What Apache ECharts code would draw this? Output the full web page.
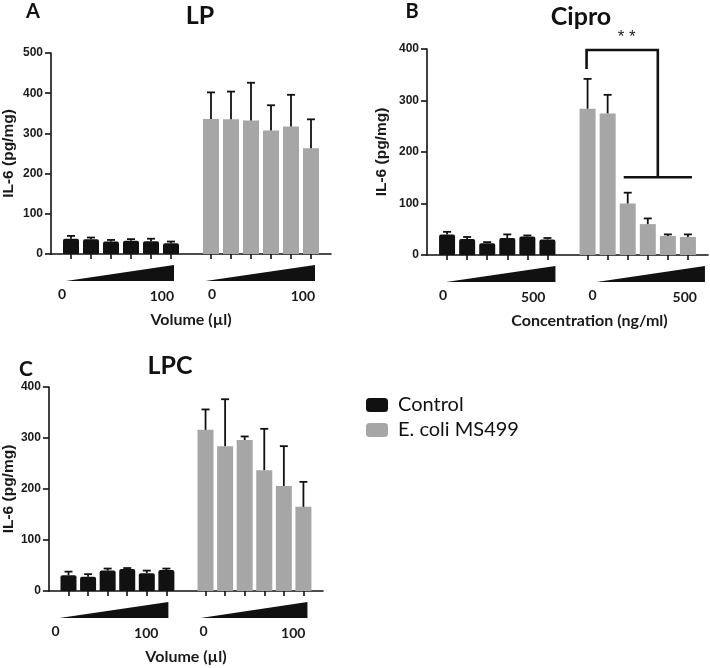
<!DOCTYPE html>
<html><head><meta charset="utf-8">
<script src="https://cdn.jsdelivr.net/npm/echarts@6/dist/echarts.min.js"></script>
<style>html,body{margin:0;padding:0;background:#fff}#c{width:710px;height:668px}</style>
</head><body><div id="c"></div>
<script>
// ---------- data ----------
const doses = ['dose 1','dose 2','dose 3','dose 4','dose 5','dose 6'];
const groupNames = ['Control', 'E. coli MS499'];

const lpControl     = [38, 37, 31, 33, 32, 27];
const lpControlErr  = [7, 4, 4, 4, 6, 4];
const lpEcoli       = [336, 335, 332, 307, 317, 263];
const lpEcoliErr    = [66, 69, 94, 63, 79, 72];
const lpDoseLabels  = ['0', '100'];

const cipControl    = [40, 31, 23, 33, 36, 30];
const cipControlErr = [5, 4, 2, 7, 2, 3];
const cipEcoli      = [284, 275, 100, 60, 37, 35];
const cipEcoliErr   = [58, 36, 21, 11, 3, 5];
const cipDoseLabels = ['0', '500'];

const lpcControl    = [31, 28, 40, 43, 35, 41];
const lpcControlErr = [7, 5, 4, 2, 5, 3];
const lpcEcoli      = [316, 284, 296, 237, 206, 165];
const lpcEcoliErr   = [40, 92, 7, 81, 78, 49];
const lpcDoseLabels = ['0', '100'];

const yTicksLP = [0, 100, 200, 300, 400, 500];
const yTicks400 = [0, 100, 200, 300, 400];

// significance annotation (Cipro): values in data units
const cipSig = { text: '* *', topValue: 398, legBottomValue: 361, lowValue: 151 };

// ---------- build ----------
const cats = ['pad L'].concat(doses.map(d => 'Control ' + d), ['gap'], doses.map(d => 'MS499 ' + d), ['pad R']);
const ctrlIdx = doses.map((_, i) => 1 + i);
const ecoIdx = doses.map((_, i) => 8 + i);
const tickSet = new Set(ctrlIdx.concat(ecoIdx));

const panels = [
  { title: 'LP', letter: 'A', ticks: yTicksLP, xName: 'Volume (µl)',
    ctrl: lpControl, ctrlErr: lpControlErr, eco: lpEcoli, ecoErr: lpEcoliErr, labels: lpDoseLabels,
    grid: { left: 50, top: 53, width: 281, height: 201 }, yGap: 34, xNamePad: 0,
    titleXY: [200, 16], letterXY: [33, 12], letterSize: 20,
    adj: [[-5, 3, -9, 3], [-5.5, 4, 1, 4]] },
  { title: 'Cipro', letter: 'B', ticks: yTicks400, xName: 'Concentration (ng/ml)',
    ctrl: cipControl, ctrlErr: cipControlErr, eco: cipEcoli, ecoErr: cipEcoliErr, labels: cipDoseLabels,
    grid: { left: 427, top: 49, width: 281, height: 206 }, yGap: 37, xNamePad: 44,
    titleXY: [581, 17], letterXY: [412, 12], letterSize: 20,
    adj: [[-1, 8, -4, -2], [9, 17, 5, 9]] },
  { title: 'LPC', letter: 'C', ticks: yTicks400, xName: 'Volume (µl)',
    ctrl: lpcControl, ctrlErr: lpcControlErr, eco: lpcEcoli, ecoErr: lpcEcoliErr, labels: lpcDoseLabels,
    grid: { left: 45, top: 387, width: 278, height: 204 }, yGap: 29, xNamePad: 0,
    titleXY: [170, 366], letterXY: [26, 369], letterSize: 21,
    adj: [[-9, 2, -13, -8], [-5, 4, -2, 2]] }
];

const INK = '#111111';
const GREY = '#a6a6a6';
const grids = [], xAxes = [], yAxes = [], series = [], graphics = [];

panels.forEach((p, k) => {
  grids.push(Object.assign({ containLabel: false }, p.grid));
  xAxes.push({
    type: 'category', gridIndex: k, data: cats, boundaryGap: false,
    axisLine: { show: true, onZero: false, lineStyle: { color: INK, width: 1.6 } },
    axisTick: { show: true, length: 5, inside: false, interval: (i) => tickSet.has(i), lineStyle: { color: INK, width: 1.6 } },
    axisLabel: { show: false }, splitLine: { show: false },
    name: p.xName, nameLocation: 'middle', nameGap: 58,
    nameTextStyle: { fontFamily: 'Lato', fontWeight: 'bold', fontSize: 16, color: '#1a1a1a', padding: [0, 0, 0, p.xNamePad] }
  });
  const tmax = p.ticks[p.ticks.length - 1];
  yAxes.push({
    type: 'value', gridIndex: k, min: p.ticks[0], max: tmax, interval: p.ticks[1] - p.ticks[0],
    axisLine: { show: true, lineStyle: { color: INK, width: 1.6 } },
    axisTick: { show: true, length: 6, lineStyle: { color: INK, width: 1.6 } },
    axisLabel: { margin: 8, fontFamily: 'Liberation Sans', fontWeight: 'bold', fontSize: 12, color: '#1a1a1a' },
    splitLine: { show: false },
    name: 'IL-6 (pg/mg)', nameLocation: 'middle', nameRotate: 90, nameGap: p.yGap,
    nameTextStyle: { fontFamily: 'Liberation Sans', fontWeight: 'bold', fontSize: 15.5, color: '#1a1a1a' }
  });

  const ctrlData = cats.map(() => null), ecoData = cats.map(() => null);
  ctrlIdx.forEach((ci, i) => ctrlData[ci] = p.ctrl[i]);
  ecoIdx.forEach((ci, i) => ecoData[ci] = p.eco[i]);

  series.push({ type: 'bar', name: groupNames[0], xAxisIndex: k, yAxisIndex: k, data: ctrlData,
    barWidth: 16, barGap: '-100%', itemStyle: { color: INK, borderRadius: [2, 2, 1, 1] }, z: 2 });
  series.push({ type: 'bar', name: groupNames[1], xAxisIndex: k, yAxisIndex: k, data: ecoData,
    barWidth: 16, barGap: '-100%', itemStyle: { color: GREY }, z: 2 });

  const errData = [];
  ctrlIdx.forEach((ci, i) => errData.push([ci, p.ctrl[i], p.ctrl[i] + p.ctrlErr[i]]));
  ecoIdx.forEach((ci, i) => errData.push([ci, p.eco[i], p.eco[i] + p.ecoErr[i]]));
  series.push({ type: 'custom', xAxisIndex: k, yAxisIndex: k, data: errData, z: 5, silent: true,
    encode: { x: 0, y: [1, 2] },
    renderItem: (params, api) => {
      const a = api.coord([api.value(0), api.value(1)]);
      const b = api.coord([api.value(0), api.value(2)]);
      const st = { stroke: INK, lineWidth: 1.8 };
      return { type: 'group', children: [
        { type: 'line', shape: { x1: a[0], y1: a[1], x2: b[0], y2: b[1] }, style: st },
        { type: 'line', shape: { x1: b[0] - 4, y1: b[1], x2: b[0] + 4, y2: b[1] }, style: st }
      ] };
    } });

  // dose wedges + dose labels below the axis
  const wedgeData = [[ctrlIdx[0], ctrlIdx[5]], [ecoIdx[0], ecoIdx[5]]];
  series.push({ type: 'custom', xAxisIndex: k, yAxisIndex: k, data: wedgeData, z: 3, silent: true, clip: false,
    encode: { x: [0, 1] },
    renderItem: (params, api) => {
      const ad = p.adj[params.dataIndex];
      const a = api.coord([api.value(0), 0]);
      const b = api.coord([api.value(1), 0]);
      const y0 = a[1];
      const xl = a[0] + ad[0], xr = b[0] + ad[1];
      return { type: 'group', children: [
        { type: 'polygon', shape: { points: [[xl, y0 + 27], [xr, y0 + 27], [xr, y0 + 11]] }, style: { fill: INK } },
        { type: 'text', style: { text: p.labels[0], x: a[0] + ad[2], y: y0 + 40, align: 'center', verticalAlign: 'middle',
            font: 'bold 14px Lato', fill: '#1a1a1a' } },
        { type: 'text', style: { text: p.labels[1], x: b[0] + ad[3], y: y0 + 42, align: 'right', verticalAlign: 'middle',
            font: 'bold 14px Lato', fill: '#1a1a1a' } }
      ] };
    } });

  graphics.push({ type: 'text', x: p.titleXY[0], y: p.titleXY[1],
    style: { text: p.title, font: 'bold 25px Lato', fill: '#111', align: 'center', verticalAlign: 'middle' } });
  graphics.push({ type: 'text', x: p.letterXY[0], y: p.letterXY[1],
    style: { text: p.letter, font: 'bold ' + p.letterSize + 'px Lato', fill: '#111', align: 'center', verticalAlign: 'middle' } });
});

// significance bracket on Cipro panel (gridIndex 1)
series.push({ type: 'custom', xAxisIndex: 1, yAxisIndex: 1, data: [[ecoIdx[0], cipSig.topValue]], z: 6, silent: true, clip: false,
  encode: { x: 0, y: 1 },
  renderItem: (params, api) => {
    const bw = api.size([1, 0])[0];
    const xAt = (f) => api.coord([Math.floor(f), 0])[0] + (f - Math.floor(f)) * bw;
    const yAt = (v) => api.coord([ecoIdx[0], v])[1];
    const xL = xAt(ecoIdx[0]) - 1, xR = xAt(ecoIdx[3] + 0.5);
    const yT = yAt(cipSig.topValue), yLeg = yAt(cipSig.legBottomValue), yLow = yAt(cipSig.lowValue);
    const st = { stroke: INK, lineWidth: 2.6, lineCap: 'butt' };
    return { type: 'group', children: [
      { type: 'polyline', shape: { points: [[xL, yLeg], [xL, yT], [xR, yT], [xR, yLow]] }, style: Object.assign({ fill: null }, st) },
      { type: 'line', shape: { x1: xAt(ecoIdx[2] - 0.2), y1: yLow, x2: xAt(ecoIdx[5] + 0.2), y2: yLow }, style: st },
      { type: 'text', style: { text: cipSig.text, x: xAt(ecoIdx[1] + 0.95), y: yT - 13, align: 'center', verticalAlign: 'middle',
          font: '17px "Liberation Sans"', fill: '#222' } }
    ] };
  } });

const chart = echarts.init(document.getElementById('c'), null, { renderer: 'canvas' });
chart.setOption({
  backgroundColor: '#ffffff',
  animation: false,
  grid: grids, xAxis: xAxes, yAxis: yAxes, series: series,
  legend: {
    data: groupNames, orient: 'vertical', left: 361, top: 390,
    itemWidth: 22, itemHeight: 14, itemGap: 5, icon: 'roundRect', selectedMode: false,
    textStyle: { fontFamily: 'Lato', fontSize: 20, color: '#111', lineHeight: 20, padding: [0, 0, 0, 5] }
  },
  graphic: graphics
});
</script></body></html>
